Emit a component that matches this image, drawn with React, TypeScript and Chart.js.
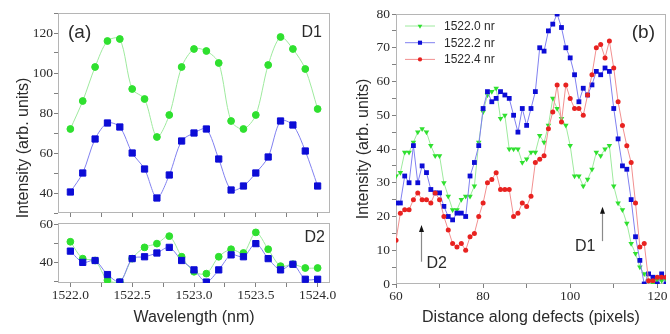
import React, { useEffect, useRef } from 'react';
import { Chart, registerables } from 'chart.js';
Chart.register(...registerables);

// ---------- Data: panel (a) ----------
const WAVELENGTHS = [1522.0, 1522.1, 1522.2, 1522.3, 1522.4, 1522.5, 1522.6, 1522.7, 1522.8, 1522.9, 1523.0, 1523.1, 1523.2, 1523.3, 1523.4, 1523.5, 1523.6, 1523.7, 1523.8, 1523.9, 1524.0];
const D1_GREEN = [72, 86, 103, 116, 117, 92, 87, 68, 79, 103, 112, 111, 105, 76, 72, 79, 104, 118, 112, 102, 82];
const D1_BLUE = [40.5, 50, 67, 75, 73, 60, 52, 37.5, 49, 66, 70, 72, 57, 41.5, 43.5, 50, 58, 76, 74, 61, 43.5];
const D2_GREEN = [51, 42, 41, 30.5, 29.5, 42, 48, 50, 54, 43, 35, 34, 43, 47, 45, 56, 47, 38, 39, 37, 37];
const D2_BLUE = [46, 40, 41, 33.5, 29.5, 42, 43, 45, 48, 41, 36, 29.5, 36, 44, 43, 50, 42, 36, 39, 31, 31];

const WAVE_TICKS_MAJOR = [1522.0, 1522.5, 1523.0, 1523.5, 1524.0];
const WAVE_TICKS_MINOR = [1522.25, 1522.75, 1523.25, 1523.75];
const D1_TICKS_MAJOR = [40, 60, 80, 100, 120];
const D1_TICKS_MINOR = [30, 50, 70, 90, 110, 130];
const D2_TICKS_MAJOR = [40, 60];
const D2_TICKS_MINOR = [30, 50];

// ---------- Data: panel (b) ----------
const PIXELS = [60, 61, 62, 63, 64, 65, 66, 67, 68, 69, 70, 71, 72, 73, 74, 75, 76, 77, 78, 79, 80, 81, 82, 83, 84, 85, 86, 87, 88, 89, 90, 91, 92, 93, 94, 95, 96, 97, 98, 99, 100, 101, 102, 103, 104, 105, 106, 107, 108, 109, 110, 111, 112, 113, 114, 115, 116, 117, 118, 119, 120, 121, 122];
const SERIES_NAMES = ['1522.0 nr', '1522.2 nr', '1522.4 nr'];
const LINE_1522_0 = [32, 33, 39, 39, 42, 45, 46, 45, 41, 38, 38, 30, 26, 22, 22, 25, 26, 26, 29, 42, 51, 56, 57, 58, 49, 50, 40, 40, 40, 36, 37, 39, 39, 44, 42, 47, 55, 52, 49, 47, 41, 32, 32, 29, 31, 34, 39, 38, 40, 41, 29, 24, 22, 18, 12, 9, 5, 3, 1, 0, 1, 1, 1];
const LINE_1522_2 = [24, 24, 32, 30, 41, 30, 35, 33, 28, 27, 27, 23, 20, 19, 21, 21, 20, 32, 36, 41, 52, 57, 54, 55, 57, 56, 55, 50, 45, 52, 47, 52, 57, 70, 69, 75, 77, 80, 76, 70, 67, 62, 54, 58, 56, 59, 63, 62, 64, 63, 52, 43, 35, 34, 25, 14, 7, 0, 3, 2, 0, 3, 0];
const LINE_1522_4 = [13, 21, 22, 22, 25, 27, 25, 25, 24, 27, 25, 20, 16, 12, 11, 12, 10, 14, 15, 20, 24, 30, 31, 33, 28, 28, 28, 20, 21, 24, 23, 26, 36, 37, 38, 46, 51, 59, 48, 59, 55, 52, 52, 50, 56, 62, 70, 71, 67, 72, 64, 54, 47, 41, 36, 24, 11, 12, 1, 1, 2, 2, 2];

const PIX_TICKS_MAJOR = [60, 80, 100, 120];
const PIX_TICKS_MINOR = [70, 90, 110];
const INT_TICKS_MAJOR = [0, 10, 20, 30, 40, 50, 60, 70, 80];
const INT_TICKS_MINOR = [5, 15, 25, 35, 45, 55, 65, 75];

const ARROWS = [
  { label: 'D2', x: 65.75, from: 6.6, to: 17.5, textX: 67, textY: 6.1, align: 'left' },
  { label: 'D1', x: 107.4, from: 12.7, to: 22.9, textX: 105.8, textY: 11.2, align: 'right' },
];

// ---------- Styles ----------
const GREEN_PT = '#2fe02f';
const GREEN_LINE = '#9eea9e';
const BLUE_PT = '#0c0cd6';
const BLUE_LINE = '#8080f0';
const RED_PT = '#e82220';
const RED_LINE = '#f29090';
const FRAME = '#b5b5b5';
const TICK = '#808080';
const TEXT = '#2b2b2b';
const SERIF = "'Liberation Serif', 'Times New Roman', serif";
const SANS = "'Liberation Sans', Arial, sans-serif";

const W = 670;
const H = 334;

const pts = (xs: number[], ys: number[]) => xs.map((x, i) => ({ x, y: ys[i] }));
const near = (arr: number[], v: number) => arr.some((m) => Math.abs(m - v) < 1e-6);

function axis(opts: {
  min: number; max: number; majors: number[]; minors: number[];
  fmt: (v: number) => string; size?: number; showLabels?: boolean; pad?: number;
  fit: (s: any) => void; title?: any;
}) {
  return {
    type: 'linear',
    min: opts.min,
    max: opts.max,
    afterBuildTicks: (s: any) => {
      s.ticks = [...opts.majors, ...opts.minors].sort((a, b) => a - b).map((v) => ({ value: v }));
    },
    afterFit: opts.fit,
    grid: { display: true, drawOnChartArea: false, drawTicks: true, tickLength: 4, color: TICK, tickColor: TICK, tickWidth: 1 },
    border: { display: false },
    ticks: {
      display: opts.showLabels !== false,
      autoSkip: false,
      maxRotation: 0,
      padding: opts.pad ?? 1,
      color: TEXT,
      font: { family: SERIF, size: opts.size ?? 13.5 },
      callback: (v: number) => (near(opts.majors, v) ? opts.fmt(v) : ''),
    },
    title: opts.title ?? { display: false },
  };
}

function decor(id: string, draw: (chart: any) => void) {
  return {
    id,
    beforeDatasetsDraw(chart: any) {
      const { ctx, chartArea: a } = chart;
      ctx.save();
      ctx.strokeStyle = FRAME;
      ctx.lineWidth = 1;
      ctx.strokeRect(Math.round(a.left) + 0.5, Math.round(a.top) + 0.5, Math.round(a.right - a.left) - 1, Math.round(a.bottom - a.top) - 1);
      ctx.restore();
    },
    afterDraw(chart: any) {
      const { ctx } = chart;
      ctx.save();
      draw(chart);
      ctx.restore();
    },
  };
}

function text(ctx: CanvasRenderingContext2D, s: string, x: number, y: number, size: number, align: CanvasTextAlign) {
  ctx.font = `${size}px ${SANS}`;
  ctx.fillStyle = TEXT;
  ctx.textAlign = align;
  ctx.textBaseline = 'middle';
  ctx.fillText(s, x, y);
}

function marker(ctx: CanvasRenderingContext2D, style: string, r: number, x: number, y: number) {
  ctx.beginPath();
  if (style === 'rect') {
    const s = r * Math.SQRT1_2;
    ctx.rect(x - s, y - s, 2 * s, 2 * s);
  } else if (style === 'triangle') {
    ctx.moveTo(x, y + r);
    ctx.lineTo(x - r * 0.866, y - r * 0.5);
    ctx.lineTo(x + r * 0.866, y - r * 0.5);
    ctx.closePath();
  } else {
    ctx.arc(x, y, r, 0, Math.PI * 2);
  }
  ctx.fill();
}

const baseOpts = (padding: any) => ({
  responsive: false,
  animation: false as const,
  layout: { padding },
  plugins: { legend: { display: false }, tooltip: { enabled: false }, title: { display: false } },
});

export default function App() {
  const refA = useRef<HTMLCanvasElement>(null);
  const refB = useRef<HTMLCanvasElement>(null);
  const refC = useRef<HTMLCanvasElement>(null);

  useEffect(() => {
    const lineA = { borderWidth: 1, tension: 0.3, pointBorderWidth: 1 };

    // Panel (a) top: D1
    const chartA = new Chart(refA.current!, {
      type: 'line',
      data: {
        datasets: [
          { ...lineA, order: 1, data: pts(WAVELENGTHS, D1_GREEN), borderColor: GREEN_LINE, pointBackgroundColor: GREEN_PT, pointBorderColor: GREEN_PT, pointStyle: 'circle', pointRadius: 3.4 },
          { ...lineA, order: 0, data: pts(WAVELENGTHS, D1_BLUE), borderColor: BLUE_LINE, pointBackgroundColor: BLUE_PT, pointBorderColor: BLUE_PT, pointStyle: 'rect', pointRadius: 4.4 },
        ],
      } as any,
      options: {
        ...baseOpts({ left: 0, top: 13, right: 340, bottom: 121 }),
        scales: {
          x: axis({ min: 1521.9, max: 1524.1, majors: WAVE_TICKS_MAJOR, minors: WAVE_TICKS_MINOR, fmt: (v) => v.toFixed(1), showLabels: false, fit: (s) => { s.height = 0; } }),
          y: axis({ min: 30, max: 130, majors: D1_TICKS_MAJOR, minors: D1_TICKS_MINOR, fmt: (v) => String(v), fit: (s) => { s.width = 58; } }),
        },
      } as any,
      plugins: [decor('decorA', (chart) => {
        const { ctx, chartArea: a } = chart;
        text(ctx, '(a)', a.left + 10, a.top + 20, 19, 'left');
        text(ctx, 'D1', a.right - 8, a.top + 20, 16, 'right');
        ctx.save();
        ctx.translate(24, 148);
        ctx.rotate(-Math.PI / 2);
        text(ctx, 'Intensity (arb. units)', 0, 0, 16, 'center');
        ctx.restore();
      })],
    });

    // Panel (a) bottom: D2
    const chartB = new Chart(refB.current!, {
      type: 'line',
      data: {
        datasets: [
          { ...lineA, order: 1, data: pts(WAVELENGTHS, D2_GREEN), borderColor: GREEN_LINE, pointBackgroundColor: GREEN_PT, pointBorderColor: GREEN_PT, pointStyle: 'circle', pointRadius: 3.4 },
          { ...lineA, order: 0, data: pts(WAVELENGTHS, D2_BLUE), borderColor: BLUE_LINE, pointBackgroundColor: BLUE_PT, pointBorderColor: BLUE_PT, pointStyle: 'rect', pointRadius: 4.4 },
        ],
      } as any,
      options: {
        ...baseOpts({ left: 0, top: 223, right: 340, bottom: 0 }),
        scales: {
          x: axis({
            min: 1521.9, max: 1524.1, majors: WAVE_TICKS_MAJOR, minors: WAVE_TICKS_MINOR, fmt: (v) => v.toFixed(1), pad: 0,
            fit: (s) => { s.height = 51; },
            title: { display: true, text: 'Wavelength (nm)', color: TEXT, font: { family: SANS, size: 16 }, padding: { top: 0, bottom: 7 } },
          }),
          y: axis({ min: 29, max: 61, majors: D2_TICKS_MAJOR, minors: D2_TICKS_MINOR, fmt: (v) => String(v), fit: (s) => { s.width = 58; } }),
        },
      } as any,
      plugins: [decor('decorB', (chart) => {
        const { ctx, chartArea: a } = chart;
        text(ctx, 'D2', a.right - 5, a.top + 15, 16, 'right');
      })],
    });

    // Panel (b)
    const lineC = { borderWidth: 1, tension: 0, pointBorderWidth: 0 };
    const chartC = new Chart(refC.current!, {
      type: 'line',
      data: {
        datasets: [
          { ...lineC, order: 2, label: SERIES_NAMES[0], data: pts(PIXELS, LINE_1522_0), borderColor: GREEN_LINE, pointBackgroundColor: GREEN_PT, pointBorderColor: GREEN_PT, pointStyle: 'triangle', pointRotation: 180, pointRadius: 3.2, legendColor: GREEN_PT },
          { ...lineC, order: 1, label: SERIES_NAMES[1], data: pts(PIXELS, LINE_1522_2), borderColor: BLUE_LINE, pointBackgroundColor: BLUE_PT, pointBorderColor: BLUE_PT, pointStyle: 'rect', pointRadius: 3.4, legendColor: BLUE_PT },
          { ...lineC, order: 0, label: SERIES_NAMES[2], data: pts(PIXELS, LINE_1522_4), borderColor: RED_LINE, pointBackgroundColor: RED_PT, pointBorderColor: RED_PT, pointStyle: 'circle', pointRadius: 2.5, legendColor: RED_PT },
        ],
      } as any,
      options: {
        ...baseOpts({ left: 340, top: 14, right: 2, bottom: 0 }),
        scales: {
          x: axis({
            min: 60, max: 122, majors: PIX_TICKS_MAJOR, minors: PIX_TICKS_MINOR, fmt: (v) => String(v), pad: 0,
            fit: (s) => { s.height = 50; },
            title: { display: true, text: 'Distance along defects (pixels)', color: TEXT, font: { family: SANS, size: 16 }, padding: { top: 0, bottom: 7 } },
          }),
          y: axis({
            min: 0, max: 80, majors: INT_TICKS_MAJOR, minors: INT_TICKS_MINOR, fmt: (v) => String(v), pad: 2,
            fit: (s) => { s.width = 56; },
            title: { display: true, text: 'Intensity (arb. units)', color: TEXT, font: { family: SANS, size: 16 }, padding: { top: 14, bottom: 0 } },
          }),
        },
      } as any,
      plugins: [decor('decorC', (chart) => {
        const { ctx, chartArea: a, scales } = chart;
        const xs = scales.x;
        const ys = scales.y;
        // legend
        chart.data.datasets.forEach((ds: any, i: number) => {
          const y = a.top + 12 + i * 16.7;
          const x0 = a.left + 9;
          const x1 = a.left + 39;
          ctx.strokeStyle = ds.borderColor;
          ctx.lineWidth = 1;
          ctx.beginPath();
          ctx.moveTo(x0, y);
          ctx.lineTo(x1, y);
          ctx.stroke();
          ctx.fillStyle = ds.legendColor;
          marker(ctx, ds.pointStyle, ds.pointRadius * 0.85, (x0 + x1) / 2, y);
          text(ctx, ds.label, a.left + 48, y + 0.5, 12, 'left');
        });
        text(ctx, '(b)', a.right - 11, a.top + 19, 19, 'right');
        // arrows
        ARROWS.forEach((ar) => {
          const px = Math.round(xs.getPixelForValue(ar.x)) + 0.5;
          const p0 = ys.getPixelForValue(ar.from);
          const p1 = ys.getPixelForValue(ar.to);
          ctx.strokeStyle = '#8a8a8a';
          ctx.lineWidth = 1.2;
          ctx.beginPath();
          ctx.moveTo(px, p0);
          ctx.lineTo(px, p1 + 5);
          ctx.stroke();
          ctx.fillStyle = '#111';
          ctx.beginPath();
          ctx.moveTo(px, p1);
          ctx.lineTo(px - 2.5, p1 + 7);
          ctx.lineTo(px + 2.5, p1 + 7);
          ctx.closePath();
          ctx.fill();
          text(ctx, ar.label, xs.getPixelForValue(ar.textX), ys.getPixelForValue(ar.textY), 16, ar.align as CanvasTextAlign);
        });
      })],
    });

    return () => {
      chartA.destroy();
      chartB.destroy();
      chartC.destroy();
    };
  }, []);

  const cv: React.CSSProperties = { position: 'absolute', left: 0, top: 0, width: W, height: H, display: 'block' };
  return (
    <div style={{ position: 'absolute', left: 0, top: 0, width: W, height: H, background: '#fff', overflow: 'hidden' }}>
      <canvas ref={refA} width={W} height={H} style={cv} />
      <canvas ref={refB} width={W} height={H} style={cv} />
      <canvas ref={refC} width={W} height={H} style={cv} />
    </div>
  );
}
